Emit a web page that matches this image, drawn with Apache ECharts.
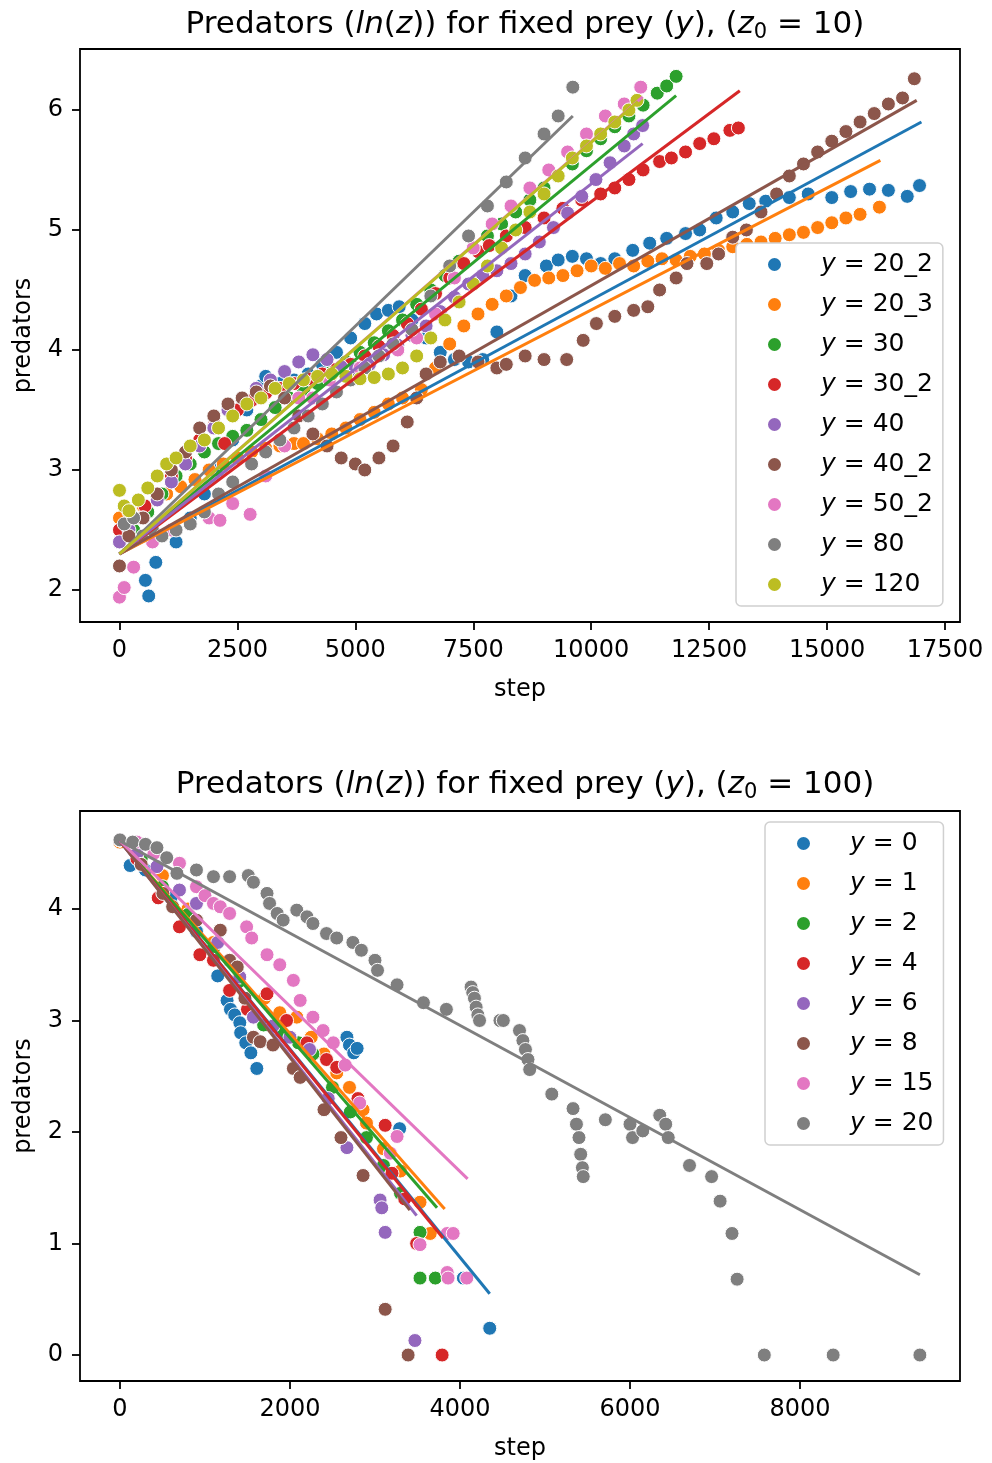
<!DOCTYPE html>
<html>
<head>
<meta charset="utf-8">
<script src="https://cdn.jsdelivr.net/npm/echarts@6/dist/echarts.min.js"></script>
<style>
  html, body { margin: 0; padding: 0; background: #fff; }
  #main { width: 992px; height: 1463px; }
</style>
</head>
<body>
<div id="main"></div>
<script>
// ---- top panel (z0 = 10): [step, ln(z)] ----
var top_20_2 = [[550,2.08],[620,1.95],[770,2.23],[1200,2.4],[1500,2.6],[1800,2.8],[2100,3.0],[2400,3.25],[2700,3.5],[3000,3.7],[3100,3.78],[3400,3.72],[3700,3.75],[4000,3.8],[4300,3.88],[4600,3.98],[4900,4.1],[5200,4.22],[5450,4.3],[5700,4.33],[5930,4.36],[6200,4.25],[6500,4.1],[6800,3.98],[7100,3.92],[7400,3.9],[7700,3.92],[8000,4.15],[8300,4.45],[8600,4.62],[9050,4.7],[9300,4.75],[9600,4.78],[9900,4.76],[10200,4.72],[10500,4.76],[10880,4.83],[11240,4.89],[11600,4.93],[12000,4.97],[12300,5.0],[12650,5.1],[13000,5.15],[13350,5.22],[13700,5.24],[14200,5.27],[14600,5.3],[15100,5.27],[15500,5.32],[15900,5.34],[16300,5.33],[16700,5.28],[16960,5.37]];
var top_20_3 = [[0,2.6],[200,2.65],[500,2.7],[800,2.75],[1000,2.8],[1300,2.86],[1600,2.92],[1900,3.0],[2200,3.05],[2500,3.1],[2800,3.15],[3100,3.18],[3400,3.2],[3700,3.22],[3900,3.22],[4200,3.26],[4500,3.3],[4800,3.35],[5100,3.42],[5400,3.48],[5700,3.55],[6000,3.6],[6400,3.67],[6700,3.85],[7000,4.05],[7300,4.2],[7600,4.3],[7900,4.38],[8200,4.45],[8500,4.52],[8800,4.58],[9100,4.6],[9400,4.62],[9700,4.66],[10000,4.7],[10300,4.68],[10600,4.72],[10900,4.7],[11200,4.74],[11500,4.76],[11800,4.75],[12100,4.78],[12400,4.8],[12700,4.83],[13000,4.86],[13300,4.88],[13600,4.9],[13900,4.93],[14200,4.96],[14500,4.98],[14800,5.02],[15100,5.06],[15400,5.1],[15700,5.13],[16110,5.19]];
var top_30 = [[0,2.4],[300,2.5],[600,2.65],[900,2.8],[1200,2.95],[1500,3.05],[1800,3.15],[2100,3.22],[2400,3.28],[2700,3.33],[3000,3.42],[3300,3.52],[3600,3.6],[3900,3.66],[4200,3.72],[4500,3.82],[4800,3.9],[5100,3.98],[5400,4.06],[5700,4.16],[6000,4.25],[6300,4.38],[6600,4.5],[6900,4.62],[7200,4.74],[7500,4.85],[7800,4.95],[8100,5.05],[8400,5.15],[8700,5.25],[9000,5.35],[9300,5.45],[9600,5.55],[9900,5.66],[10200,5.76],[10500,5.86],[10800,5.95],[11100,6.04],[11400,6.14],[11600,6.2],[11800,6.28]];
var top_30_2 = [[0,2.5],[300,2.6],[540,2.7],[800,2.8],[1100,2.95],[1400,3.1],[1700,3.25],[2020,3.38],[2230,3.22],[2500,3.5],[2800,3.58],[3100,3.64],[3400,3.68],[3700,3.72],[4000,3.76],[4300,3.8],[4600,3.84],[4900,3.88],[5200,3.95],[5500,4.03],[5800,4.12],[6100,4.22],[6400,4.34],[6700,4.47],[7000,4.6],[7300,4.72],[7600,4.82],[7840,4.87],[8200,4.95],[8600,5.02],[9000,5.1],[9400,5.18],[9800,5.25],[10200,5.3],[10500,5.35],[10800,5.42],[11100,5.5],[11450,5.57],[11700,5.6],[12000,5.65],[12300,5.72],[12600,5.76],[12940,5.83],[13120,5.85]];
var top_40 = [[0,2.4],[200,2.5],[500,2.6],[800,2.75],[1100,2.9],[1400,3.05],[1700,3.2],[2000,3.35],[2300,3.5],[2600,3.6],[2900,3.68],[3200,3.75],[3500,3.82],[3800,3.9],[4100,3.96],[4400,3.92],[4700,3.86],[5000,3.84],[5300,3.88],[5600,3.96],[5900,4.04],[6200,4.12],[6500,4.2],[6800,4.32],[7100,4.44],[7400,4.55],[7700,4.62],[8000,4.66],[8300,4.72],[8600,4.8],[8900,4.9],[9200,5.02],[9500,5.14],[9800,5.28],[10100,5.42],[10400,5.56],[10700,5.7],[10900,5.8],[11090,5.87]];
var top_40_2 = [[0,2.2],[200,2.45],[500,2.6],[800,2.8],[1100,3.0],[1400,3.15],[1700,3.35],[2000,3.45],[2300,3.55],[2600,3.6],[2900,3.65],[3200,3.7],[3500,3.6],[3800,3.45],[4100,3.3],[4400,3.2],[4700,3.1],[5000,3.05],[5200,3.0],[5500,3.1],[5800,3.2],[6100,3.4],[6300,3.6],[6500,3.8],[6800,3.9],[7200,3.95],[7600,3.9],[8000,3.85],[8200,3.88],[8600,3.95],[9000,3.92],[9480,3.92],[9830,4.08],[10110,4.22],[10500,4.28],[10900,4.33],[11200,4.36],[11450,4.5],[11800,4.6],[12030,4.72],[12450,4.72],[12700,4.8],[13000,4.94],[13290,5.0],[13600,5.15],[13930,5.3],[14200,5.45],[14500,5.55],[14800,5.65],[15100,5.74],[15400,5.82],[15700,5.9],[16000,5.97],[16300,6.05],[16600,6.1],[16850,6.26]];
var top_50_2 = [[0,1.94],[100,2.02],[300,2.19],[700,2.4],[1100,2.5],[1500,2.55],[1900,2.6],[2130,2.58],[2400,2.72],[2770,2.63],[3100,2.95],[3500,3.2],[3800,3.6],[4100,3.6],[4450,3.75],[4800,3.78],[5100,3.85],[5500,3.95],[5900,4.0],[6300,4.1],[6700,4.3],[7100,4.6],[7500,4.85],[7900,5.05],[8300,5.2],[8700,5.35],[9100,5.5],[9500,5.65],[9900,5.8],[10300,5.95],[10700,6.05],[11050,6.19]];
var top_80 = [[100,2.55],[300,2.6],[500,2.45],[700,2.5],[900,2.45],[1200,2.5],[1500,2.55],[1800,2.65],[2100,2.8],[2400,2.9],[2800,3.05],[3100,3.15],[3400,3.25],[3700,3.35],[4000,3.45],[4300,3.55],[4600,3.65],[4900,3.75],[5200,3.85],[5500,3.95],[5800,4.05],[6200,4.17],[6600,4.45],[7000,4.7],[7400,4.95],[7800,5.2],[8200,5.4],[8600,5.6],[9000,5.8],[9300,5.95],[9610,6.19]];
var top_120 = [[0,2.83],[100,2.7],[200,2.66],[400,2.75],[600,2.85],[800,2.95],[1000,3.05],[1200,3.1],[1500,3.2],[1800,3.25],[2100,3.35],[2400,3.45],[2700,3.55],[3000,3.6],[3300,3.68],[3600,3.72],[3900,3.75],[4200,3.78],[4500,3.8],[4800,3.78],[5100,3.76],[5400,3.77],[5700,3.8],[6000,3.85],[6300,3.95],[6600,4.1],[6900,4.25],[7200,4.4],[7500,4.55],[7800,4.7],[8100,4.85],[8400,5.0],[8700,5.15],[9000,5.3],[9300,5.45],[9600,5.6],[9900,5.7],[10200,5.8],[10500,5.9],[10800,6.0],[10970,6.08]];

var topNames = ['20_2','20_3','30','30_2','40','40_2','50_2','80','120'];
var topData = [top_20_2, top_20_3, top_30, top_30_2, top_40, top_40_2, top_50_2, top_80, top_120];
// fitted lines: start value at step 0, [last step, end value]
var topFitStart = 2.3;
var topFitEnd = [[17000,5.90],[16130,5.58],[11800,6.12],[13150,6.16],[11090,5.72],[16900,6.08],[11090,6.11],[9610,5.95],[10990,6.07]];

// ---- bottom panel (z0 = 100) ----
var bot_0 = [[0,4.6],[120,4.39],[300,4.35],[600,4.1],[900,3.8],[1150,3.4],[1260,3.18],[1300,3.1],[1350,3.05],[1410,2.98],[1420,2.89],[1480,2.8],[1540,2.71],[1610,2.57],[2670,2.85],[2700,2.78],[2750,2.71],[2790,2.75],[3290,2.03],[4040,0.69],[4350,0.24]];
var bot_1 = [[0,4.6],[200,4.5],[500,4.3],[800,4.0],[1100,3.7],[1400,3.4],[1700,3.2],[1880,3.07],[2080,3.03],[2250,2.85],[2400,2.7],[2550,2.53],[2700,2.4],[2860,2.2],[2900,2.08],[3100,1.85],[3300,1.65],[3530,1.37],[3650,1.09]];
var bot_2 = [[0,4.62],[250,4.45],[500,4.2],[800,3.95],[1100,3.65],[1400,3.35],[1690,2.96],[1900,2.9],[2100,2.8],[2270,2.7],[2500,2.4],[2710,2.18],[2900,1.95],[3100,1.7],[3300,1.45],[3530,1.1],[3530,0.69],[3710,0.69]];
var bot_4 = [[0,4.62],[200,4.45],[450,4.1],[700,3.84],[940,3.59],[1100,3.54],[1290,3.27],[1500,3.1],[1730,3.24],[1960,3.0],[2200,2.8],[2430,2.65],[2550,2.58],[2800,2.3],[3120,2.06],[3200,1.63],[3350,1.4],[3490,1.0],[3790,0]];
var bot_6 = [[0,4.62],[200,4.5],[435,4.38],[700,4.17],[900,4.05],[1150,3.7],[1410,3.39],[1570,3.03],[1800,2.95],[2000,2.85],[2230,2.74],[2450,2.3],[2670,1.86],[3060,1.39],[3080,1.32],[3120,1.1],[3470,0.13]];
var bot_8 = [[0,4.62],[250,4.4],[505,4.14],[620,4.02],[900,3.9],[1180,3.81],[1290,3.54],[1380,3.48],[1470,3.2],[1570,2.85],[1650,2.81],[1800,2.78],[2040,2.57],[2120,2.49],[2400,2.2],[2600,1.95],[2860,1.61],[3120,0.41],[3390,0]];
var bot_15 = [[0,4.62],[200,4.6],[400,4.5],[700,4.41],[900,4.2],[1000,4.12],[1100,4.05],[1180,4.02],[1290,3.96],[1490,3.84],[1550,3.74],[1730,3.59],[1880,3.5],[2040,3.36],[2120,3.18],[2270,3.03],[2390,2.91],[2510,2.8],[2650,2.6],[2820,2.26],[3180,1.81],[3260,1.96],[3530,0.99],[3850,1.09],[3920,1.09],[3850,0.74],[3860,0.69],[4080,0.69]];
var bot_20 = [[0,4.62],[150,4.6],[300,4.58],[435,4.55],[550,4.46],[670,4.32],[900,4.35],[1100,4.29],[1290,4.29],[1510,4.3],[1570,4.24],[1730,4.14],[1760,4.05],[1850,3.96],[1920,3.9],[2080,3.99],[2200,3.93],[2270,3.87],[2430,3.78],[2550,3.74],[2740,3.7],[2840,3.63],[3000,3.54],[3030,3.45],[3260,3.32],[3570,3.16],[3840,3.1],[4130,3.3],[4150,3.25],[4170,3.2],[4190,3.12],[4210,3.05],[4230,3.0],[4470,3.0],[4510,3.0],[4700,2.91],[4740,2.82],[4770,2.74],[4800,2.65],[4820,2.56],[5080,2.34],[5330,2.21],[5370,2.07],[5400,1.95],[5420,1.8],[5440,1.68],[5450,1.6],[5710,2.11],[6000,2.07],[6030,1.95],[6150,2.01],[6350,2.15],[6420,2.07],[6450,1.95],[6700,1.7],[6960,1.6],[7060,1.38],[7200,1.09],[7260,0.68],[7580,0],[8390,0],[9410,0]];

var botNames = ['0','1','2','4','6','8','15','20'];
var botData = [bot_0, bot_1, bot_2, bot_4, bot_6, bot_8, bot_15, bot_20];
var botFitStart = 4.61;
var botFitEnd = [[4350,0.55],[3820,1.31],[3730,1.32],[3800,1.05],[3490,1.25],[3410,1.3],[4090,1.58],[9410,0.72]];

var topXTicks = [0,2500,5000,7500,10000,12500,15000,17500];
var topYTicks = [2,3,4,5,6];
var botXTicks = [0,2000,4000,6000,8000];
var botYTicks = [0,1,2,3,4];

var colors = ['#1f77b4','#ff7f0e','#2ca02c','#d62728','#9467bd','#8c564b','#e377c2','#7f7f7f','#bcbd22'];
var FONT = 'DejaVu Sans';

var myChart = echarts.init(document.getElementById('main'));

function xAxisOf(gi, min, max, ticks) {
  return {
    type: 'value', gridIndex: gi, min: min, max: max,
    name: 'step', nameLocation: 'middle', nameGap: 56,
    nameTextStyle: { fontFamily: FONT, fontSize: 24, color: '#000' },
    axisLine: { show: false, onZero: false },
    axisTick: { show: true, length: 8, customValues: ticks, lineStyle: { color: '#000', width: 1.8 } },
    axisLabel: { customValues: ticks, fontFamily: FONT, fontSize: 24, color: '#000', margin: 17,
      formatter: function (v) { return String(v); } },
    splitLine: { show: false }
  };
}
function yAxisOf(gi, min, max, ticks) {
  return {
    type: 'value', gridIndex: gi, min: min, max: max,
    name: 'predators', nameLocation: 'middle', nameGap: 44,
    nameTextStyle: { fontFamily: FONT, fontSize: 24, color: '#000' },
    axisLine: { show: false, onZero: false },
    axisTick: { show: true, length: 8, customValues: ticks, lineStyle: { color: '#000', width: 1.8 } },
    axisLabel: { customValues: ticks, fontFamily: FONT, fontSize: 24, color: '#000', margin: 17,
      formatter: function (v) { return String(v); } },
    splitLine: { show: false }
  };
}

var series = [];
function addPanel(gi, names, data, fitStart, fitEnd) {
  for (var i = 0; i < names.length; i++) {
    var c = colors[i];
    series.push({
      type: 'scatter', name: names[i], xAxisIndex: gi, yAxisIndex: gi,
      data: data[i], symbolSize: 14, z: 2,
      itemStyle: { color: c, borderColor: '#fff', borderWidth: 1, opacity: 1 }
    });
  }
  for (var j = 0; j < names.length; j++) {
    series.push({
      type: 'line', name: 'fit ' + names[j], xAxisIndex: gi, yAxisIndex: gi,
      data: [[0, fitStart], fitEnd[j]], showSymbol: false, silent: true, z: 3,
      lineStyle: { color: colors[j], width: 3 }
    });
  }
}
addPanel(0, topNames, topData, topFitStart, topFitEnd);
addPanel(1, botNames, botData, botFitStart, botFitEnd);

function legendOf(left, top, names) {
  return {
    orient: 'vertical', left: left, top: top, data: names,
    icon: 'circle', itemWidth: 15, itemHeight: 15, itemGap: 13,
    padding: [8, 10, 8, 30],
    backgroundColor: '#fff', borderColor: '#d0d0d0', borderWidth: 1.5, borderRadius: 5,
    selectedMode: false,
    formatter: function (n) { return '{sp|}{i|y} = ' + n; },
    textStyle: {
      fontFamily: FONT, fontSize: 25, color: '#000', lineHeight: 27,
      rich: {
        sp: { width: 34 },
        i: { fontFamily: FONT, fontSize: 25, fontStyle: 'italic', color: '#000' }
      }
    }
  };
}

function titleOf(top, z0) {
  return {
    text: 'Predators ({i|ln}({i|z})) for fixed prey ({i|y}), ({i|z}{sub|0} = ' + z0 + ')',
    left: 520, top: top, textAlign: 'center',
    textStyle: {
      fontFamily: FONT, fontSize: 31, fontWeight: 'normal', color: '#000',
      rich: {
        i: { fontFamily: FONT, fontSize: 31, fontStyle: 'italic', color: '#000' },
        sub: { fontFamily: FONT, fontSize: 21, color: '#000', padding: [15, 0, 0, 0] }
      }
    }
  };
}

var option = {
  animation: false,
  backgroundColor: '#fff',
  title: [titleOf(2, 10), titleOf(762, 100)],
  grid: [
    { left: 80, top: 49, width: 880, height: 573, show: true, borderColor: '#000', borderWidth: 1.8, backgroundColor: 'transparent' },
    { left: 80, top: 811, width: 880, height: 570, show: true, borderColor: '#000', borderWidth: 1.8, backgroundColor: 'transparent' }
  ],
  xAxis: [xAxisOf(0, -837, 17818, topXTicks), xAxisOf(1, -470, 9882, botXTicks)],
  yAxis: [yAxisOf(0, 1.733, 6.508, topYTicks), yAxisOf(1, -0.233, 4.879, botYTicks)],
  legend: [legendOf(736, 243, topNames), legendOf(765, 822, botNames)],
  series: series
};
myChart.setOption(option);
</script>
</body>
</html>
